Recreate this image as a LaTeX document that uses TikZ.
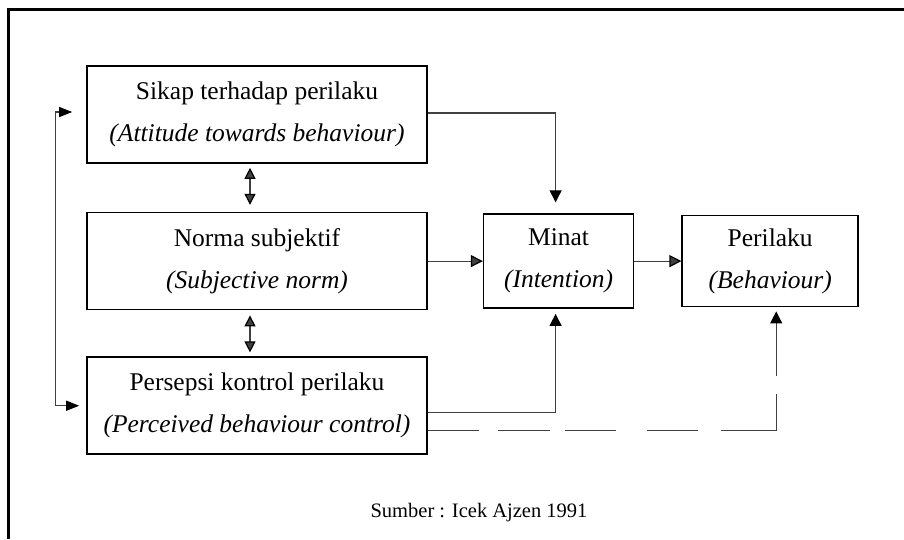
\documentclass[tikz,border=0pt]{standalone}
\usepackage{fontspec}
\setmainfont{Liberation Serif}
\usetikzlibrary{positioning,arrows.meta}

\begin{document}
\begin{tikzpicture}[x=1pt,y=-1pt,
  box/.style={draw,line width=1.6pt,minimum width=340pt,minimum height=97pt,
    align=center,font=\fontsize{25.5}{42}\selectfont},
  link/.style={color=black!75,line width=1.2pt},
  tip/.style={-{Triangle[color=black,width=12pt,length=12pt]}},
  both/.style={{Triangle[color=black,width=11pt,length=11pt]}-{Triangle[color=black,width=11pt,length=11pt]}},
  ]
  \useasboundingbox (0,0) rectangle (904,539);
  \draw[line width=3pt] (904,9.5) -- (8.5,9.5) -- (8.5,539);

  \node (sikap) [box] at (257,114.5)
    {Sikap terhadap perilaku\\\textit{(Attitude towards behaviour)}};
  \node (norma) [box, below=48pt of sikap]
    {Norma subjektif\\\textit{(Subjective norm)}};
  \node (persepsi) [box, below=46pt of norma]
    {Persepsi kontrol perilaku\\\textit{(Perceived behaviour control)}};
  \node (minat) [box, minimum width=150pt, minimum height=94pt, right=55pt of norma]
    {Minat\\\textit{(Intention)}};
  \node (perilaku) [box, minimum width=176pt, minimum height=91pt, right=47pt of minat]
    {Perilaku\\\textit{(Behaviour)}};
  \node (sumber) [font=\fontsize{20.5}{24}\selectfont] at (479,513) {Sumber : Icek Ajzen 1991};

  \path[link, both]
    ([xshift=-7pt, yshift=-4pt]sikap.south) edge ([xshift=-7pt, yshift=7pt]norma.north)
    ([xshift=-7pt, yshift=-5pt]norma.south) edge ([xshift=-7pt, yshift=4pt]persepsi.north);
  \path[link, tip]
    (norma.east) edge (minat.west)
    (minat.east) edge (perilaku.west);

  \draw[link, tip, shorten >=11pt] ([yshift=1.5pt]sikap.east) -| ([xshift=-3pt]minat.north);
  \draw[link, tip, shorten >=5pt] ([yshift=-6.5pt]persepsi.east) -| ([xshift=-3pt]minat.south);
  \draw[link, tip, shorten >=4pt,
    dash pattern=on 51pt off 19pt on 52pt off 15pt on 51pt off 31pt on 51pt off 23pt on 92pt off 18pt on 100pt off 0pt]
    ([yshift=-24.5pt]persepsi.east) -| ([xshift=6pt]perilaku.south);
  \draw[link, {Triangle[color=black,width=10pt,length=13pt]}-{Triangle[color=black,width=10pt,length=13pt]}]
    ([xshift=-14pt, yshift=2.5pt]sikap.west) -- ++(-17,0) |- ([xshift=-7pt]persepsi.west);
\end{tikzpicture}
\end{document}
